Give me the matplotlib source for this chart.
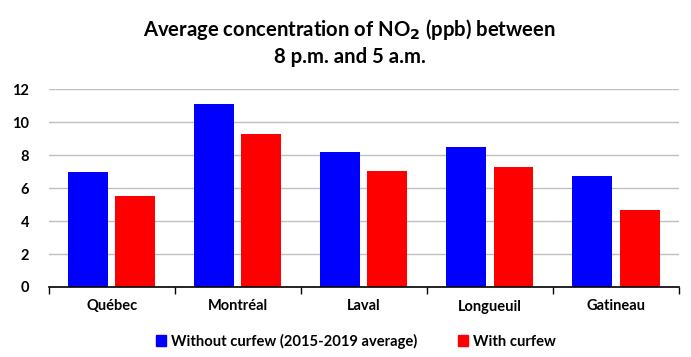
import numpy as np
import matplotlib.pyplot as plt
from matplotlib.patches import Patch

# Data
cities = ['Québec', 'Montréal', 'Laval', 'Longueuil', 'Gatineau']
without_curfew = [7.0, 11.1, 8.2, 8.5, 6.75]
with_curfew = [5.55, 9.3, 7.05, 7.3, 4.7]
yticks = [0, 2, 4, 6, 8, 10, 12]

plt.rcParams['font.family'] = ['Lato', 'DejaVu Sans']

fig = plt.figure(figsize=(6.91, 3.57), dpi=100)
ax = fig.add_axes([48.7 / 691, 1 - 287 / 357, (679 - 48.7) / 691, (287 - 89.3) / 357])

x = np.arange(len(cities))
w = 0.317
ax.bar(x - 0.187, without_curfew, w, color='#0000ff', zorder=3)
ax.bar(x + 0.187, with_curfew, w, color='#ff0000', zorder=3)

ax.set_xlim(-0.5, len(cities) - 0.5)
ax.set_ylim(0, 12)
ax.set_yticks(yticks)
ax.set_yticklabels([str(t) for t in yticks], fontsize=10.5, fontweight='bold')
ax.yaxis.grid(True, color='#bfbfbf', linewidth=1.0, zorder=0)
ax.tick_params(axis='y', length=0, pad=14)

# category labels between boundary ticks
ax.set_xticks(np.arange(-0.5, len(cities)), minor=False)
ax.set_xticklabels([])
ax.tick_params(axis='x', length=5, width=1, direction='out', color='black')
ax.set_xticks(x, minor=True)
ax.set_xticklabels(cities, minor=True, fontsize=10.5, fontweight='bold')
ax.tick_params(axis='x', which='minor', length=0, pad=9)

for s in ['left', 'right', 'top']:
    ax.spines[s].set_visible(False)
ax.spines['bottom'].set_color('black')
ax.spines['bottom'].set_linewidth(1.2)
ax.spines['bottom'].set_zorder(4)

fig.text(0.506, 1 - 30 / 357, 'Average concentration of NO$_\\mathbf{2}$ (ppb) between',
         ha='center', va='center', fontsize=14.6, fontweight='bold')
fig.text(0.506, 1 - 57 / 357, '8 p.m. and 5 a.m.',
         ha='center', va='center', fontsize=14.6, fontweight='bold')

handles = [Patch(color='#0000ff', label='Without curfew (2015-2019 average)'),
           Patch(color='#ff0000', label='With curfew')]
fig.legend(handles=handles, loc='center', bbox_to_anchor=(0.515, 1 - 341 / 357), ncol=2,
           frameon=False, prop={'weight': 'bold', 'size': 10.6},
           handlelength=0.7, handleheight=0.7, handletextpad=0.3, columnspacing=2.8)

fig.savefig('out.png', dpi=100)
